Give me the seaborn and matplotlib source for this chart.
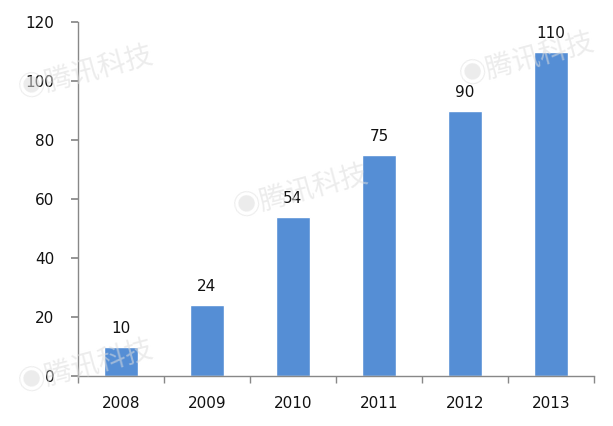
import matplotlib
matplotlib.use("Agg")
import matplotlib.pyplot as plt
import seaborn as sns
import pandas as pd

# chart data
years = ["2008", "2009", "2010", "2011", "2012", "2013"]
values = [10, 24, 54, 75, 90, 110]
y_ticks = [0, 20, 40, 60, 80, 100, 120]

df = pd.DataFrame({"year": years, "value": values})

sns.set_theme(style="white")
plt.rcParams["font.family"] = ["DejaVu Sans", "Noto Sans CJK SC"]

fig = plt.figure(figsize=(6.13, 4.26), dpi=100)
ax = fig.add_axes([0.127, 0.117, 0.842, 0.831])

sns.barplot(data=df, x="year", y="value", color="#558ED5", saturation=1,
            width=0.4, ax=ax)

for c in ax.containers:
    ax.bar_label(c, padding=8, fontsize=11, color="#111111")

ax.set_ylim(0, 120)
ax.set_yticks(y_ticks)
ax.set_xlim(-0.5, len(years) - 0.5)
ax.set_xlabel("")
ax.set_ylabel("")

# spines like the original (only left and bottom)
for s in ["top", "right"]:
    ax.spines[s].set_visible(False)
for s in ["left", "bottom"]:
    ax.spines[s].set_color("#888888")
    ax.spines[s].set_linewidth(1)

ax.tick_params(axis="y", left=True, length=5, color="#888888", labelsize=11,
               labelcolor="#111111", pad=12)
ax.tick_params(axis="x", bottom=False, labelsize=11, labelcolor="#111111",
               pad=8)
# x ticks between the categories
ax.set_xticks([i + 0.5 for i in range(-1, len(years))], minor=True)
ax.tick_params(axis="x", which="minor", bottom=True, length=5,
               color="#888888")

# faint watermarks
wm = dict(fontsize=20, color="#dddddd", alpha=0.55, rotation=15,
          family=["Noto Sans CJK SC"], ha="center", va="center",
          transform=fig.transFigure, zorder=5)
for x, y in [(0.14, 0.83), (0.49, 0.55), (0.86, 0.86), (0.14, 0.14)]:
    fig.text(x, y, "◉腾讯科技", **wm)

fig.savefig("out.png", dpi=100)
